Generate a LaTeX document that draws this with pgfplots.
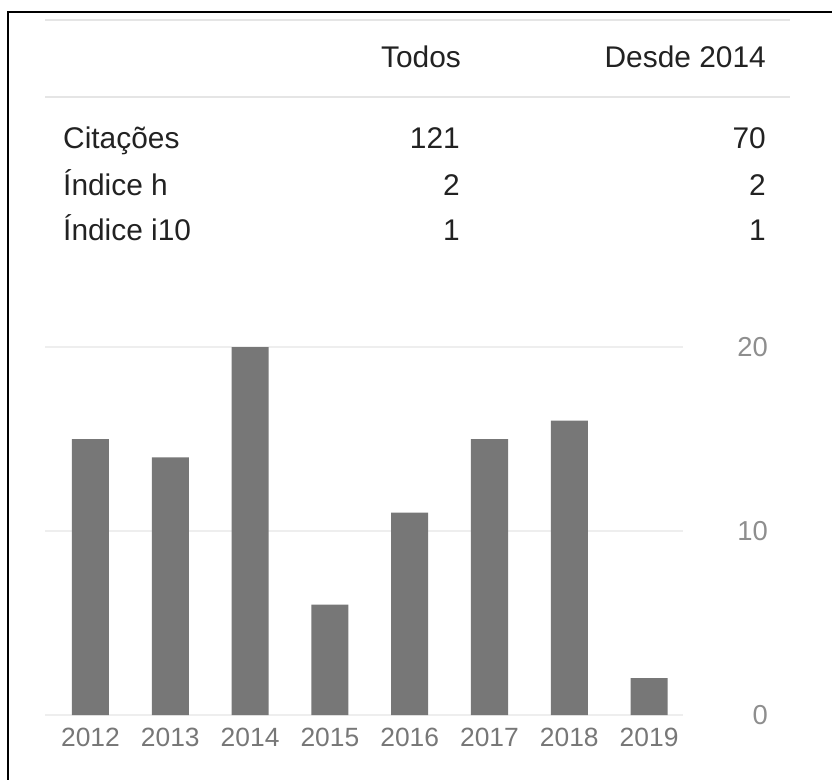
\documentclass[border=0pt]{standalone}
\usepackage{pgfplots}
\pgfplotsset{compat=1.18}
\usepackage{fontspec}
\setmainfont{Liberation Sans}
\definecolor{bargray}{HTML}{777777}
\definecolor{gridgray}{HTML}{EEEEEE}
\definecolor{rulegray}{HTML}{E5E5E5}
\definecolor{txt}{HTML}{222222}
\definecolor{ticky}{HTML}{8E8E8E}
\definecolor{tickx}{HTML}{777777}
\begin{document}
\begin{tikzpicture}[x=1bp,y=1bp]
\path[use as bounding box] (0,0) rectangle (832,-780);
% frame
\draw[black, line width=2bp] (8,-781) -- (8,-12) -- (833,-12);
% table rules
\draw[rulegray, line width=2.5bp] (45,-20) -- (790,-20);
\draw[rulegray, line width=2.5bp] (45,-97) -- (790,-97);
% table text
\begin{scope}[every node/.style={inner sep=0pt, text=txt, font=\fontsize{30}{34}\selectfont}]
\node[anchor=base east] at (461,-68) {Todos};
\node[anchor=base east] at (766,-68) {Desde 2014};
\node[anchor=base west] at (63,-148) {Citações};
\node[anchor=base west] at (63,-195) {Índice h};
\node[anchor=base west] at (63,-240) {Índice i10};
\node[anchor=base east] at (460,-148) {121};
\node[anchor=base east] at (460,-195) {2};
\node[anchor=base east] at (460,-240) {1};
\node[anchor=base east] at (766,-148) {70};
\node[anchor=base east] at (766,-195) {2};
\node[anchor=base east] at (766,-240) {1};
\end{scope}
\begin{axis}[
  at={(45bp,-715bp)}, anchor=south west,
  scale only axis, width=638bp, height=368bp,
  xmin=-0.570, xmax=7.425, ymin=0, ymax=20,
  axis line style={draw=none},
  clip=false,
  ymajorgrids, grid style={gridgray, line width=1.5bp},
  ytick={0,10,20},
  yticklabel pos=right,
  major tick length=0pt,
  tick style={draw=none},
  yticklabel style={anchor=east, inner sep=0pt, xshift=85bp, text=ticky, font=\fontsize{27.5}{30}\selectfont},
  xtick=data,
  xticklabels={2012,2013,2014,2015,2016,2017,2018,2019},
  xticklabel style={anchor=north, inner sep=0pt, yshift=-13bp, text=tickx, font=\fontsize{26.5}{30}\selectfont},
  /pgf/number format/assume math mode=true,
]
\addplot[ybar, bar width=37bp, fill=bargray, draw=none] coordinates {
(0,15) (1,14) (2,20) (3,6) (4,11) (5,15) (6,16) (7,2)
};
\end{axis}
\end{tikzpicture}
\end{document}
